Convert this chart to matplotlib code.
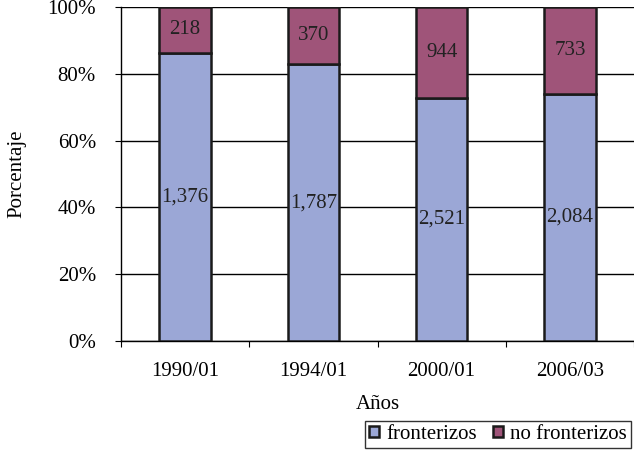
import matplotlib.pyplot as plt
import numpy as np

# Datos
anios = ['1990/01', '1994/01', '2000/01', '2006/03']
fronterizos = [1376, 1787, 2521, 2084]
no_fronterizos = [218, 370, 944, 733]

color_fr = '#9BA7D6'
color_nofr = '#9F5479'

plt.rcParams['font.family'] = ['Liberation Serif', 'DejaVu Serif']
fs = 15

fig = plt.figure(figsize=(6.34, 4.51), dpi=100)
ax = fig.add_axes([121 / 634, 110 / 451, 513 / 634, 334 / 451])

x = np.arange(len(anios))
total = np.array(fronterizos) + np.array(no_fronterizos)
pct_fr = np.array(fronterizos) / total
pct_nofr = np.array(no_fronterizos) / total

ancho = 0.4
b1 = ax.bar(x, pct_fr, width=ancho, color=color_fr, edgecolor='#1a1a1a', linewidth=1.8,
            label='fronterizos', zorder=3)
b2 = ax.bar(x, pct_nofr, bottom=pct_fr, width=ancho, color=color_nofr, edgecolor='#1a1a1a',
            linewidth=1.8, label='no fronterizos', zorder=3)

# Etiquetas dentro de las barras
for i in range(len(anios)):
    ax.text(x[i], pct_fr[i] / 2, f'{fronterizos[i]:,}', ha='center', va='center',
            fontsize=fs, color='#222222', zorder=4)
    ax.text(x[i], pct_fr[i] + pct_nofr[i] / 2, f'{no_fronterizos[i]:,}', ha='center',
            va='center', fontsize=fs, color='#222222', zorder=4)

ax.set_xlim(-0.5, len(anios) - 0.5)
ax.set_ylim(0, 1)
ax.set_yticks(np.arange(0, 1.01, 0.2))
ax.set_yticklabels([f'{int(round(v * 100))}%' for v in np.arange(0, 1.01, 0.2)], fontsize=fs)
ax.yaxis.grid(True, color='black', linewidth=1.0, zorder=0)

# Ticks del eje x en los limites de cada categoria
ax.set_xticks(np.arange(-0.5, len(anios) + 0.5, 1))
ax.set_xticklabels([])
ax.set_xticks(x, minor=True)
ax.set_xticklabels(anios, minor=True, fontsize=fs)
ax.tick_params(axis='x', which='minor', length=0, pad=15)
ax.tick_params(axis='x', which='major', length=4, direction='out')
ax.tick_params(axis='y', length=4, direction='out', pad=14)

for lado in ['top', 'right']:
    ax.spines[lado].set_visible(False)
ax.spines['left'].set_linewidth(1.0)
ax.spines['bottom'].set_linewidth(1.0)

ax.set_ylabel('Porcentaje', fontsize=fs)
ax.yaxis.set_label_coords((26 - 121) / 513, 0.5)
ax.set_xlabel('Años', fontsize=fs, labelpad=10)

leg = fig.legend(handles=[b1, b2], loc='lower right', bbox_to_anchor=(1.0, 0.0),
                 ncol=2, fontsize=fs, frameon=True, fancybox=False, edgecolor='black',
                 handlelength=0.45, handleheight=0.45, handletextpad=0.35, columnspacing=0.8,
                 borderpad=0.2, borderaxespad=0.15)
leg.get_frame().set_linewidth(1.0)

fig.savefig('out.png', dpi=100)
